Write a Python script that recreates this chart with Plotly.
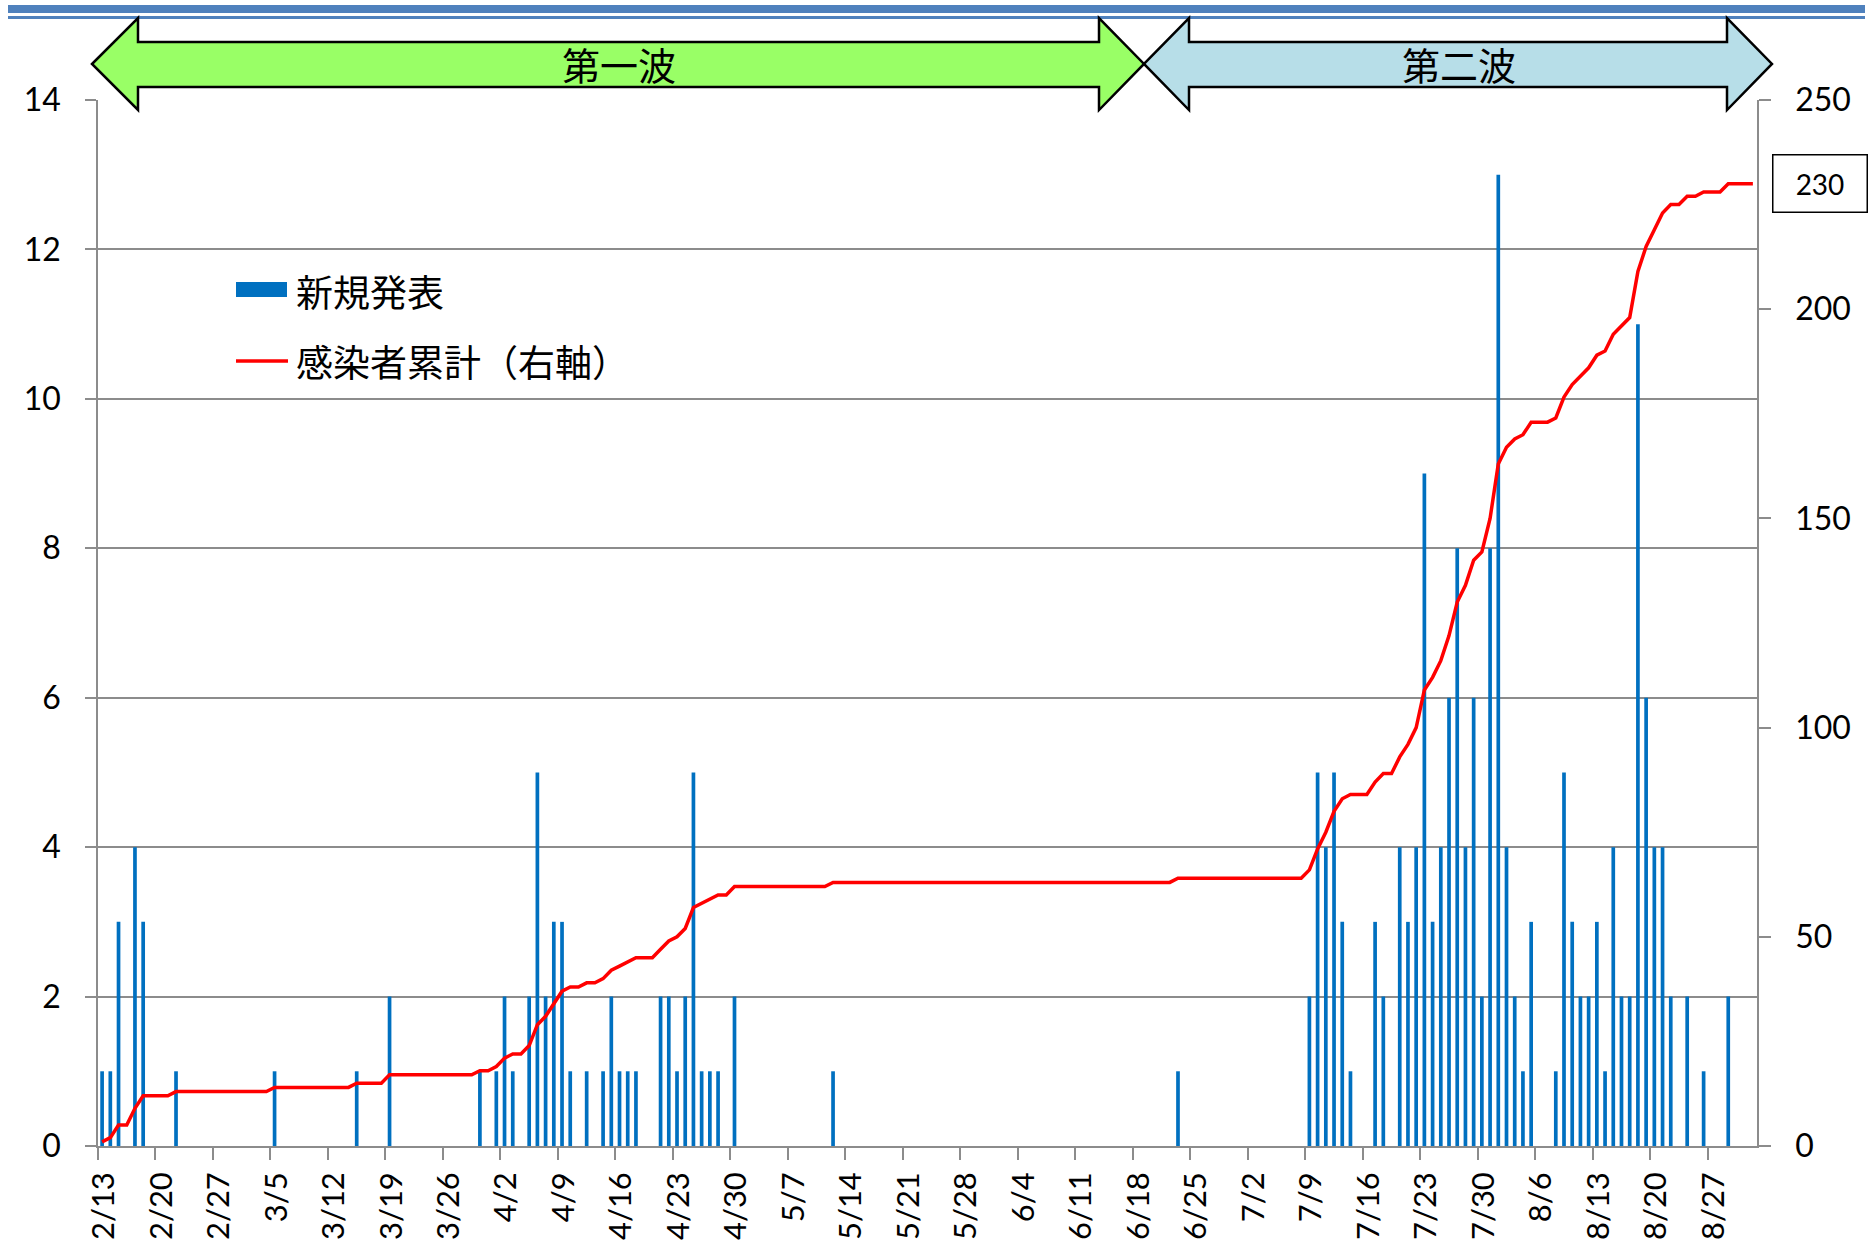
import pandas as pd
import plotly.graph_objects as go

YEAR = 2020

# ---- data ----
new_dates = [
    "2/13", "2/14", "2/15", "2/17", "2/18", "2/22",
    "3/5", "3/15", "3/19", "3/30",
    "4/1", "4/2", "4/3", "4/5", "4/6", "4/7", "4/8", "4/9", "4/10", "4/12",
    "4/14", "4/15", "4/16", "4/17", "4/18", "4/21", "4/22", "4/23", "4/24",
    "4/25", "4/26", "4/27", "4/28", "4/30",
    "5/12", "6/23",
    "7/9", "7/10", "7/11", "7/12", "7/13", "7/14", "7/17", "7/18", "7/20",
    "7/21", "7/22", "7/23", "7/24", "7/25", "7/26", "7/27", "7/28", "7/29",
    "7/30", "7/31",
    "8/1", "8/2", "8/3", "8/4", "8/5", "8/8", "8/9", "8/10", "8/11", "8/12",
    "8/13", "8/14", "8/15", "8/16", "8/17", "8/18", "8/19", "8/20", "8/21",
    "8/22", "8/24", "8/26", "8/29",
]
new_counts = [
    1, 1, 3, 4, 3, 1,
    1, 1, 2, 1,
    1, 2, 1, 2, 5, 2, 3, 3, 1, 1,
    1, 2, 1, 1, 1, 2, 2, 1, 2,
    5, 1, 1, 1, 2,
    1, 1,
    2, 5, 4, 5, 3, 1, 3, 2, 4,
    3, 4, 9, 3, 4, 6, 8, 4, 6,
    2, 8,
    13, 4, 2, 1, 3, 1, 5, 3, 2, 2,
    3, 1, 4, 2, 2, 11, 6, 4, 4,
    2, 2, 1, 2,
]
first_day = "2/13"
last_day = "9/1"
x_tick_labels = ["2/13", "2/20", "2/27", "3/5", "3/12", "3/19", "3/26", "4/2",
                 "4/9", "4/16", "4/23", "4/30", "5/7", "5/14", "5/21", "5/28",
                 "6/4", "6/11", "6/18", "6/25", "7/2", "7/9", "7/16", "7/23",
                 "7/30", "8/6", "8/13", "8/20", "8/27"]
left_ticks = [0, 2, 4, 6, 8, 10, 12, 14]
right_ticks = [0, 50, 100, 150, 200, 250]
total_label = "230"
wave_labels = ["第一波", "第二波"]
legend_labels = ["新規発表", "感染者累計（右軸）"]


def to_date(md):
    m, d = md.split("/")
    return pd.Timestamp(YEAR, int(m), int(d))


days = pd.date_range(to_date(first_day), to_date(last_day), freq="D")
daily = pd.Series(0, index=days)
for d, c in zip(new_dates, new_counts):
    daily[to_date(d)] = c
cumulative = daily.cumsum()

half = pd.Timedelta(hours=12)
DAY_MS = 86400000

# ---- geometry ----
W, H = 1869, 1245
L, R, T, B = 98, 112, 100, 99
PW = W - L - R
PH = H - T - B


def P(x, y):
    return (x - L) / PW, (H - B - y) / PH


def path(points):
    s = ""
    for i, (x, y) in enumerate(points):
        px, py = P(x, y)
        s += ("M" if i == 0 else "L") + f"{px:.5f},{py:.5f} "
    return s + "Z"


BLUE = "#0070C0"
GRID = "#8C8C8C"
FONT = "Lato"
CJK = "Noto Sans CJK JP"
TICK_SIZE = 32

fig = go.Figure()
fig.add_trace(go.Bar(
    x=[to_date(d) + half for d in new_dates], y=new_counts,
    width=0.45 * DAY_MS, marker=dict(color=BLUE, line=dict(width=0)),
    name=legend_labels[0], yaxis="y",
))
fig.add_trace(go.Scatter(
    x=days + half, y=cumulative.values, mode="lines",
    line=dict(color="#FF0000", width=3.5), name=legend_labels[1], yaxis="y2",
))

shapes = []
# top decorative blue rules
for (y0, y1) in [(5, 13), (16, 19)]:
    x0p, y0p = P(8, y0)
    x1p, y1p = P(1865, y1)
    shapes.append(dict(type="rect", xref="paper", yref="paper", x0=x0p, x1=x1p,
                       y0=y1p, y1=y0p, fillcolor="#4F81BD", line=dict(width=0),
                       layer="above"))

green_pts = [(92, 64), (138, 18), (138, 42), (1099, 42), (1099, 18), (1144, 64),
             (1099, 110), (1099, 87), (138, 87), (138, 110)]
blue_pts = [(1144, 64), (1189, 18), (1189, 42), (1727, 42), (1727, 18), (1772, 64),
            (1727, 110), (1727, 87), (1189, 87), (1189, 110)]
shapes.append(dict(type="path", xref="paper", yref="paper", path=path(green_pts),
                   fillcolor="#99FF66", line=dict(color="black", width=2.5), layer="above"))
shapes.append(dict(type="path", xref="paper", yref="paper", path=path(blue_pts),
                   fillcolor="#B7DEE8", line=dict(color="black", width=2.5), layer="above"))

# legend symbols
lx0, ly0 = P(236, 282)
lx1, ly1 = P(287, 297)
shapes.append(dict(type="rect", xref="paper", yref="paper", x0=lx0, x1=lx1, y0=ly1, y1=ly0,
                   fillcolor=BLUE, line=dict(width=0)))
mx0, my = P(236, 361)
mx1, _ = P(288, 361)
shapes.append(dict(type="line", xref="paper", yref="paper", x0=mx0, x1=mx1, y0=my, y1=my,
                   line=dict(color="#FF0000", width=3.5)))

annotations = []
for label, (cx, cy) in zip(wave_labels, [(619, 63), (1459, 63)]):
    ax_, ay_ = P(cx, cy)
    annotations.append(dict(text=label, x=ax_, y=ay_, xref="paper", yref="paper",
                            showarrow=False, xanchor="center", yanchor="middle",
                            font=dict(family=CJK, size=38, color="black")))
for label, cy in zip(legend_labels, [291, 361]):
    ax_, ay_ = P(294, cy)
    annotations.append(dict(text=label, x=ax_, y=ay_, xref="paper", yref="paper",
                            showarrow=False, xanchor="left", yanchor="middle",
                            font=dict(family=CJK, size=37, color="black")))
bx, _ = P(1819.5, 184)
annotations.append(dict(text=total_label, x=bx, y=int(total_label), xref="paper", yref="y2",
                        showarrow=False, xanchor="center", yanchor="middle",
                        width=89, height=52, borderpad=2, borderwidth=1.5,
                        bordercolor="black", bgcolor="white",
                        font=dict(family=FONT, size=28, color="black")))

fig.update_layout(
    width=W, height=H,
    margin=dict(l=L, r=R, t=T, b=B, autoexpand=False),
    paper_bgcolor="white", plot_bgcolor="white",
    showlegend=False,
    font=dict(family=FONT, size=TICK_SIZE, color="black"),
    xaxis=dict(
        type="date",
        range=[to_date(first_day), to_date(last_day) + pd.Timedelta(days=1)],
        tickmode="array",
        tickvals=[to_date(t) for t in x_tick_labels],
        ticktext=x_tick_labels,
        tickangle=-90,
        ticks="outside", ticklen=12, tickcolor=GRID, tickwidth=1.5,
        showline=True, linecolor=GRID, linewidth=1.5,
        showgrid=False, zeroline=False,
        tickfont=dict(family=FONT, size=31, color="black"),
        ticklabelstandoff=0,
        ticklabelshift=6,
    ),
    yaxis=dict(
        range=[0, 14], tickmode="array", tickvals=left_ticks,
        ticks="outside", ticklen=11, tickcolor=GRID, tickwidth=1.5,
        showline=True, linecolor=GRID, linewidth=1.5,
        showgrid=True, gridcolor=GRID, gridwidth=1.5, zeroline=False,
        tickfont=dict(family=FONT, size=TICK_SIZE, color="black"),
        ticklabelstandoff=18,
    ),
    yaxis2=dict(
        range=[0, 250], tickmode="array", tickvals=right_ticks,
        overlaying="y", side="right",
        ticks="outside", ticklen=12, tickcolor=GRID, tickwidth=1.5,
        showline=True, linecolor=GRID, linewidth=1.5,
        showgrid=False, zeroline=False,
        tickfont=dict(family=FONT, size=TICK_SIZE, color="black"),
        ticklabelstandoff=18,
    ),
    shapes=shapes,
    annotations=annotations,
)

fig.write_html(
    "out.html",
    config={"displayModeBar": False},
    post_script="document.body.style.margin='0px';document.body.style.padding='0px';",
)
